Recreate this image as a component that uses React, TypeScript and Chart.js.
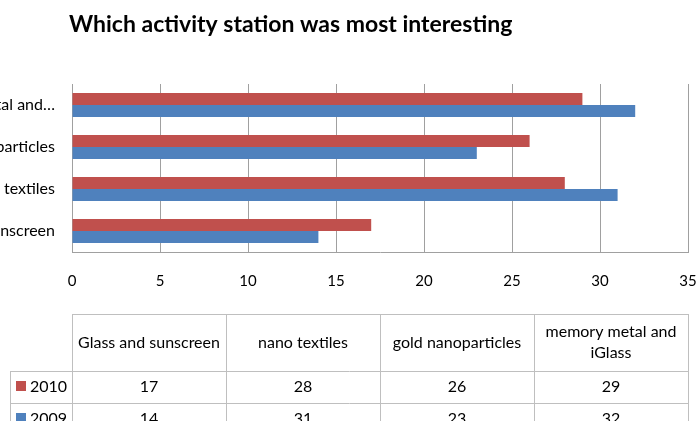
import React, { useEffect, useRef } from 'react';
import { Chart, registerables } from 'chart.js';

Chart.register(...registerables);

// Survey results: which activity station visitors found most interesting
const chartTitle = 'Which activity station was most interesting';
const categories = ['Glass and sunscreen', 'nano textiles', 'gold nanoparticles', 'memory metal and iGlass'];
const seriesNames = ['2010', '2009'];
const values2010 = [17, 28, 26, 29];
const values2009 = [14, 31, 23, 32];
const axisMin = 0;
const axisMax = 35;
const axisStep = 5;

const seriesColors = ['#C0504D', '#4F81BD'];
const seriesValues = [values2010, values2009];

const PAGE_W = 697;
const PAGE_H = 421;
// the canvas reaches past the left edge, so long category labels run off the page
const SHIFT = 100;
const FONT = 'Lato, "Open Sans", sans-serif';

function shortLabel(label: string): string {
  if (label.length <= 20) return label;
  const cut = label.slice(0, 17);
  return cut.slice(0, cut.lastIndexOf(' ')) + '\u2026';
}

function wrapText(ctx: CanvasRenderingContext2D, text: string, maxWidth: number): string[] {
  const words = text.split(' ');
  const lines: string[] = [];
  let line = '';
  for (const w of words) {
    const test = line ? line + ' ' + w : w;
    if (ctx.measureText(test).width > maxWidth && line) {
      lines.push(line);
      line = w;
    } else {
      line = test;
    }
  }
  if (line) lines.push(line);
  return lines;
}

const px = (v: number) => Math.round(v) + 0.5;

// Title above the plot and the data table beneath the value axis
const tablePlugin = {
  id: 'titleAndTable',
  afterDraw(chart: Chart) {
    const { ctx, chartArea } = chart;
    const H = chart.height;
    const left = chartArea.left;
    const right = chartArea.right;
    const colW = (right - left) / categories.length;
    const top = 314;
    const headBottom = 371;
    const rowH = 31.6;
    const keyLeft = SHIFT + 10;

    ctx.save();

    ctx.fillStyle = '#000000';
    ctx.font = `bold 23px ${FONT}`;
    ctx.textAlign = 'left';
    ctx.textBaseline = 'alphabetic';
    ctx.fillText(chartTitle, SHIFT + 69, 32);

    ctx.strokeStyle = '#bfbfbf';
    ctx.lineWidth = 1;
    const line = (x1: number, y1: number, x2: number, y2: number) => {
      ctx.beginPath();
      ctx.moveTo(x1, y1);
      ctx.lineTo(x2, y2);
      ctx.stroke();
    };
    line(left, px(top), right + 1, px(top));
    for (let r = 0; r <= seriesNames.length; r++) {
      const y = px(headBottom + r * rowH);
      line(keyLeft, y, right + 1, y);
    }
    for (let i = 0; i <= categories.length; i++) {
      const x = px(left + i * colW);
      line(x, top, x, H);
    }
    line(px(keyLeft), headBottom, px(keyLeft), H);

    ctx.font = `16px ${FONT}`;
    ctx.fillStyle = '#000000';
    ctx.textAlign = 'center';
    ctx.textBaseline = 'middle';
    const lineH = 21.6;
    categories.forEach((cat, i) => {
      const cx = left + (i + 0.5) * colW;
      const lines = wrapText(ctx, cat, colW - 12);
      const cy = (top + headBottom) / 2;
      lines.forEach((t, k) => {
        ctx.fillText(t, cx, cy + (k - (lines.length - 1) / 2) * lineH);
      });
    });

    seriesNames.forEach((name, s) => {
      const cy = headBottom + rowH * (s + 0.5);
      ctx.fillStyle = seriesColors[s];
      ctx.fillRect(SHIFT + 16, Math.round(cy - 5.5), 10, 10);
      ctx.fillStyle = '#000000';
      ctx.textAlign = 'left';
      ctx.fillText(name, SHIFT + 30, cy);
      ctx.textAlign = 'center';
      seriesValues[s].forEach((v, i) => {
        ctx.fillText(String(v), left + (i + 0.5) * colW, cy);
      });
    });

    ctx.restore();
  },
};

export default function App() {
  const canvasRef = useRef<HTMLCanvasElement | null>(null);

  useEffect(() => {
    const canvas = canvasRef.current;
    if (!canvas) return;
    Chart.defaults.font.family = FONT;

    const chart = new Chart(canvas, {
      type: 'bar',
      data: {
        labels: categories,
        datasets: seriesNames.map((name, s) => ({
          label: name,
          data: seriesValues[s],
          backgroundColor: seriesColors[s],
          borderWidth: 0,
          barPercentage: 1,
          categoryPercentage: 0.57,
        })),
      },
      options: {
        indexAxis: 'y',
        responsive: false,
        animation: false,
        devicePixelRatio: 1,
        layout: { padding: { top: 84, right: 9, bottom: 0, left: 0 } },
        plugins: {
          legend: { display: false },
          title: { display: false },
          tooltip: { enabled: false },
        },
        scales: {
          x: {
            min: axisMin,
            max: axisMax,
            ticks: {
              stepSize: axisStep,
              color: '#000000',
              font: { size: 15, family: FONT },
              padding: 20,
            },
            grid: { color: '#a0a0a0', drawTicks: false, lineWidth: 1 },
            border: { color: '#a0a0a0' },
            afterFit: (scale: any) => {
              scale.height = PAGE_H - 252;
              scale.paddingLeft = 0;
              scale.paddingRight = 0;
            },
          },
          y: {
            reverse: true,
            ticks: {
              color: '#000000',
              font: { size: 16, family: FONT },
              padding: 17,
              callback: (_v: any, i: number) => shortLabel(categories[i]),
            },
            grid: { display: false, drawTicks: false },
            border: { color: '#a0a0a0' },
            afterFit: (scale: any) => {
              scale.width = SHIFT + 72;
            },
          },
        },
      },
      plugins: [tablePlugin],
    });

    return () => chart.destroy();
  }, []);

  return (
    <div style={{ position: 'fixed', left: 0, top: 0, width: PAGE_W, height: PAGE_H, overflow: 'hidden', background: '#ffffff' }}>
      <canvas
        ref={canvasRef}
        width={PAGE_W + SHIFT}
        height={PAGE_H}
        style={{ position: 'absolute', left: -SHIFT, top: 0, width: PAGE_W + SHIFT, height: PAGE_H }}
      />
    </div>
  );
}
